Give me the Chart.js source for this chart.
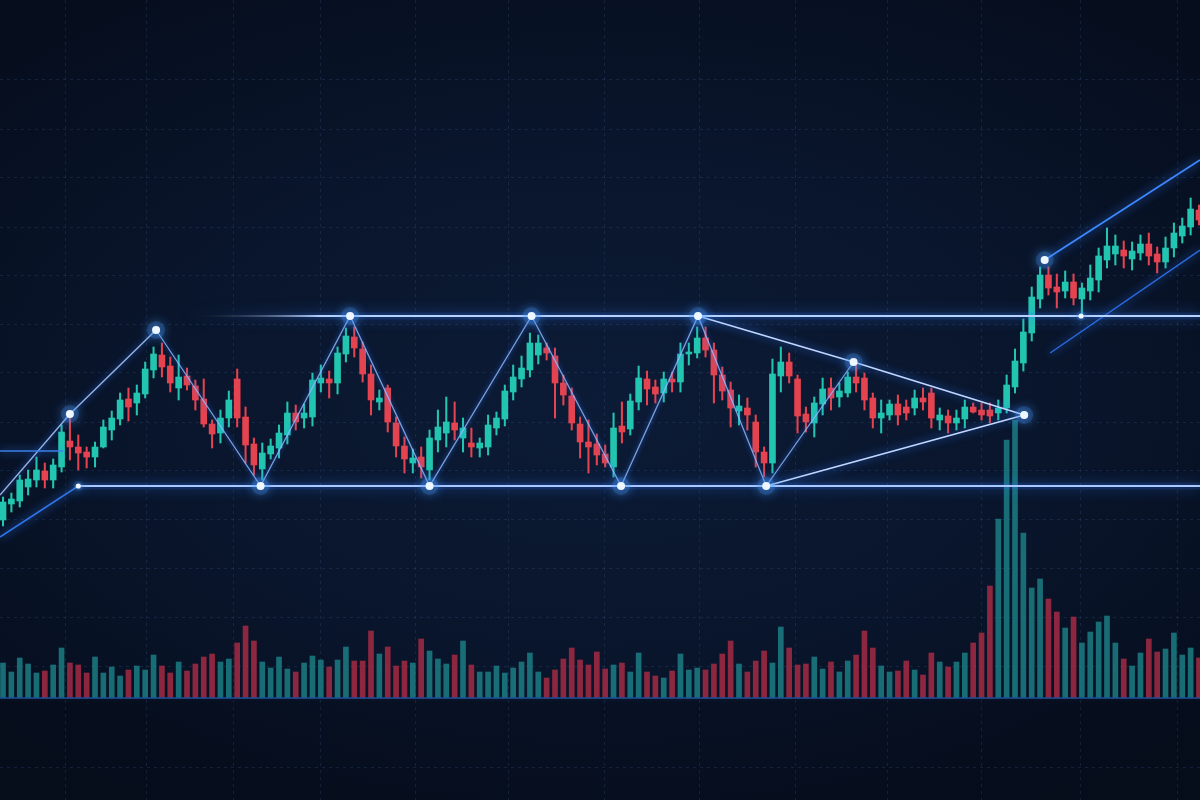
<!DOCTYPE html>
<html>
<head>
<meta charset="utf-8">
<title>Range breakout</title>
<script src="https://cdn.jsdelivr.net/npm/chart.js@4.4.1/dist/chart.umd.min.js"></script>
<style>
  html, body { margin: 0; padding: 0; }
  body {
    width: 1200px; height: 800px; overflow: hidden;
    background:
      linear-gradient(to bottom, rgba(0,0,0,0) 0, rgba(0,0,0,0) 700px, rgba(2,6,14,0.2) 702px),
      radial-gradient(ellipse 70% 60% at 50% 50%, #0c1b36 0%, #09152b 55%, #060e1e 100%);
  }
  #chart { display: block; }
</style>
</head>
<body>
<canvas id="chart" width="1200" height="800"></canvas>
<script>
// --- candles (price units), one entry per bar ---
const candleOpen = [
  28.0, 29.6, 29.9, 31.3, 32.0, 32.9, 32.0, 33.3, 35.9, 35.3,
  34.8, 34.3, 35.3, 37.0, 38.1, 40.1, 39.7, 40.6, 43.0, 44.5,
  43.4, 41.2, 42.4, 41.4, 40.1, 37.6, 36.7, 38.2, 42.1, 38.3,
  35.6, 33.1, 34.6, 35.2, 36.5, 38.7, 38.2, 38.3, 41.7, 42.1,
  41.7, 44.6, 46.3, 45.1, 42.6, 39.8, 41.2, 37.7, 35.4, 33.7,
  34.3, 33.0, 36.0, 36.7, 37.7, 36.2, 35.7, 35.2, 35.3, 37.2,
  38.1, 40.8, 42.1, 43.0, 44.5, 45.2, 44.4, 41.7, 40.4, 37.6,
  35.8, 35.6, 34.6, 33.3, 37.4, 37.1, 39.8, 42.1, 41.3, 40.7,
  42.1, 41.8, 44.6, 44.7, 46.2, 45.0, 42.5, 41.0, 38.9, 39.2,
  37.8, 34.8, 33.7, 42.4, 43.8, 42.1, 38.6, 37.7, 39.6, 41.2,
  40.3, 40.7, 42.3, 42.2, 40.2, 38.2, 38.5, 39.6, 39.3, 39.2,
  40.2, 40.7, 38.0, 38.4, 37.7, 38.1, 39.3, 39.0, 39.0, 38.7,
  39.2, 41.3, 43.7, 46.7, 50.1, 52.5, 51.3, 50.9, 51.8, 50.1,
  50.9, 52.0, 54.0, 54.6, 55.0, 54.1, 54.7, 55.6, 54.6, 53.8,
  55.2, 56.4, 57.3, 59.0
];
const candleClose = [
  29.8, 30.1, 32.0, 32.1, 33.0, 32.0, 33.5, 36.8, 35.3, 34.7,
  34.3, 35.3, 37.3, 38.2, 40.0, 39.3, 40.7, 43.1, 44.6, 43.3,
  41.7, 42.3, 41.5, 40.0, 37.6, 36.6, 38.2, 40.0, 38.2, 35.5,
  33.5, 34.7, 35.4, 36.7, 38.7, 37.8, 38.7, 42.0, 42.2, 41.7,
  44.7, 46.4, 45.2, 42.6, 40.0, 40.2, 37.8, 35.4, 34.1, 34.2,
  33.3, 36.2, 37.3, 37.8, 37.0, 37.2, 35.3, 35.7, 37.5, 38.2,
  40.9, 42.3, 43.2, 45.7, 45.7, 44.7, 41.7, 40.5, 37.7, 35.8,
  35.3, 34.5, 33.7, 37.2, 36.8, 39.9, 42.2, 41.1, 40.6, 42.1,
  41.8, 44.6, 44.8, 46.2, 45.0, 42.5, 40.9, 39.2, 39.4, 38.5,
  34.8, 33.7, 42.6, 43.8, 42.4, 38.4, 37.8, 39.7, 41.1, 40.2,
  40.9, 42.3, 41.7, 40.0, 38.2, 38.7, 39.6, 38.5, 38.7, 40.2,
  39.8, 38.2, 38.5, 37.7, 38.2, 39.3, 38.8, 38.5, 38.4, 39.2,
  41.5, 43.9, 46.8, 50.3, 52.5, 51.2, 50.8, 51.8, 50.2, 51.2,
  52.2, 54.4, 55.4, 55.4, 54.4, 54.9, 55.6, 54.4, 53.8, 55.2,
  56.7, 57.4, 59.1, 58.0
];
const candleHigh = [
  30.3, 30.7, 32.5, 33.0, 34.3, 33.7, 34.1, 37.5, 38.2, 36.5,
  35.3, 35.8, 38.0, 38.9, 40.7, 41.2, 41.5, 43.8, 45.3, 45.7,
  44.3, 44.5, 43.2, 42.0, 42.1, 38.0, 39.0, 40.9, 43.1, 39.3,
  36.2, 35.7, 36.1, 37.5, 39.8, 39.5, 39.6, 42.7, 43.5, 42.9,
  45.3, 47.2, 47.3, 45.8, 43.5, 41.0, 41.5, 38.3, 36.3, 35.1,
  35.3, 37.0, 39.0, 40.3, 39.8, 38.2, 37.2, 36.2, 38.5, 38.8,
  41.5, 43.5, 44.4, 46.7, 46.5, 45.7, 45.2, 42.5, 41.2, 38.3,
  38.0, 36.6, 35.5, 38.7, 39.8, 40.6, 43.4, 42.9, 42.0, 42.8,
  42.8, 45.7, 45.7, 47.3, 47.3, 45.7, 43.3, 41.8, 40.5, 40.2,
  38.5, 35.3, 44.1, 45.3, 44.7, 42.5, 39.3, 40.3, 42.2, 42.2,
  41.7, 42.8, 43.5, 42.7, 40.7, 40.0, 40.0, 40.5, 40.0, 41.0,
  41.2, 41.2, 39.2, 39.0, 39.0, 40.0, 39.7, 39.7, 39.7, 40.0,
  42.5, 45.1, 48.1, 51.3, 53.3, 53.3, 52.6, 52.9, 52.6, 51.7,
  53.5, 55.2, 57.2, 56.5, 55.9, 55.8, 56.5, 56.7, 55.3, 56.3,
  57.7, 58.2, 60.2, 59.5
];
const candleLow = [
  27.4, 28.8, 29.3, 30.5, 31.3, 31.2, 31.2, 32.8, 34.0, 33.0,
  33.2, 33.3, 35.2, 36.0, 37.5, 37.9, 38.5, 40.2, 42.2, 42.3,
  40.8, 40.0, 41.0, 39.0, 37.3, 35.2, 35.7, 37.3, 37.3, 33.7,
  32.5, 32.0, 34.1, 34.2, 35.6, 37.0, 37.2, 37.4, 40.8, 40.2,
  40.6, 43.8, 44.3, 41.8, 38.5, 39.0, 36.8, 34.3, 32.7, 32.7,
  32.2, 32.0, 34.8, 35.3, 36.0, 34.8, 34.3, 34.3, 34.5, 36.5,
  37.4, 40.0, 41.3, 42.3, 43.6, 44.0, 38.2, 39.5, 37.0, 34.2,
  32.7, 33.5, 33.3, 32.3, 35.7, 36.5, 39.0, 39.5, 39.7, 39.8,
  40.8, 40.8, 43.5, 44.2, 44.3, 39.7, 40.0, 37.3, 37.5, 37.0,
  33.3, 32.3, 32.7, 40.8, 41.7, 36.7, 36.8, 36.3, 38.5, 39.0,
  39.3, 40.3, 40.8, 39.0, 37.2, 36.7, 38.0, 37.5, 38.0, 38.5,
  39.0, 37.2, 37.0, 36.7, 37.0, 37.2, 38.7, 38.0, 37.7, 38.0,
  38.7, 40.7, 42.9, 45.9, 49.2, 50.5, 49.2, 50.2, 49.5, 48.5,
  50.0, 50.8, 53.2, 53.5, 53.2, 53.0, 54.0, 53.5, 52.7, 53.2,
  54.3, 55.7, 56.5, 57.5
];
const volume = [
  35, 26, 40, 34, 25, 27, 33, 50, 35, 33, 25, 41, 25, 31, 22, 28, 32, 28, 43, 32,
  25, 36, 27, 34, 41, 44, 36, 39, 55, 72, 57, 36, 30, 41, 29, 26, 35, 42, 38, 31,
  38, 51, 37, 37, 67, 44, 51, 32,
  37, 35, 59, 47, 39, 34, 43, 57, 33, 26, 26, 32, 25, 30, 36, 45, 26, 20, 28, 39,
  50, 38, 33, 46, 29, 33, 35, 26, 45, 26, 22, 20, 27, 44, 28, 30, 28, 34, 44, 57,
  34, 26, 37, 47, 35, 71, 50, 33,
  34, 41, 29, 36, 26, 37, 43, 67, 50, 32, 26, 27, 37, 28, 23, 45, 36, 31, 36, 45,
  55, 65, 112, 179, 258, 278, 165, 110, 119, 99, 86, 70, 81, 55, 66, 76, 82, 55, 39, 32,
  45, 59, 46, 49, 65, 43, 50, 40
];

// --- pattern lines: [bar index, price] ---
const riseLine = [[-0.36, 30.5], [8, 38.6], [18.3, 47.0]];
const lowerLeftLine = [[-0.36, 26.3], [9, 31.4]];
const leftShelf = [[-0.36, 34.9], [7.2, 34.9]];
const supportLine = [[9, 31.4], [143.12, 31.4]];
const resistanceLine = [[21, 48.4], [143.12, 48.4]];
const zigzag = [[18.3, 47.0], [30.8, 31.4], [41.5, 48.4], [51, 31.4], [63.2, 48.4],
  [73.9, 31.4], [83.1, 48.4], [91.25, 31.4], [101.7, 43.8]];
const triangleTop = [[83.1, 48.4], [101.7, 43.8], [122.1, 38.5]];
const triangleBottom = [[91.25, 31.4], [122.1, 38.5]];
const channelTop = [[124.55, 54.0], [143.12, 64.0]];
const channelBottom = [[125.2, 44.7], [143.12, 55.0]];
const pivots = [[8, 38.6], [18.3, 47.0], [9, 31.4], [30.8, 31.4], [41.5, 48.4], [51, 31.4],
  [63.2, 48.4], [73.9, 31.4], [83.1, 48.4], [91.25, 31.4], [101.7, 43.8], [122.1, 38.5],
  [124.55, 54.0], [128.9, 48.4]];
const minorPivots = [2, 13];

// --- grid ticks ---
const gridX = [7.5, 17.2, 27.5, 38.0, 49.3, 60.4, 71.9, 83.3, 94.8, 105.8, 117.0, 128.8, 140.4];
const gridY = [72.0, 67.1, 62.2, 57.3, 52.5, 47.6, 42.7, 37.8, 33.0, 28.1, 23.2, 18.3, 13.4, 3.3];

const X_MIN = -0.36, X_MAX = 143.12;

const UP = '#22c6b0', DOWN = '#e4434f';
const VOL_UP = 'rgba(30,135,140,0.78)', VOL_DOWN = 'rgba(178,45,70,0.78)';

document.addEventListener("DOMContentLoaded", () => {
    const isUp = candleOpen.map((o, i) => candleClose[i] >= o);
    const candleColors = isUp.map(u => u ? UP : DOWN);
    const pts = arr => arr.map(p => ({ x: p[0], y: p[1] }));

    // soft glow around lines and pivot dots
    const glowPlugin = {
        id: 'glow',
        beforeDatasetDraw(chart, args) {
            const ds = chart.data.datasets[args.index];
            if (!ds.glow) return;
            chart.ctx.save();
            chart.ctx.shadowColor = ds.glow;
            chart.ctx.shadowBlur = ds.glowBlur || 10;
        },
        afterDatasetDraw(chart, args) {
            if (chart.data.datasets[args.index].glow) chart.ctx.restore();
        }
    };

    function trend(points, color, width, glow, blur, order) {
        return {
            type: 'line', data: pts(points), borderColor: color, borderWidth: width,
            pointRadius: 0, fill: false, tension: 0, order: order || 2, glow: glow, glowBlur: blur
        };
    }

    // resistance fades in from the left
    function fadeIn(from, to, color) {
        return (c) => {
            const chart = c.chart;
            if (!chart.chartArea) return color;
            const x = chart.scales.x;
            const g = chart.ctx.createLinearGradient(x.getPixelForValue(from), 0, x.getPixelForValue(to), 0);
            g.addColorStop(0, 'rgba(0,0,0,0)');
            g.addColorStop(1, color);
            return g;
        };
    }

    const resistance = trend(resistanceLine, '#b7d2ff', 2, '#2f7bff', 14);
    resistance.borderColor = fadeIn(21, 38, '#b7d2ff');
    const resistanceHalo = trend(resistanceLine, 'rgba(50,120,255,0.16)', 7, null, 0, 3);
    resistanceHalo.borderColor = fadeIn(21, 40, 'rgba(50,120,255,0.16)');

    const ctx = document.getElementById('chart').getContext('2d');
    new Chart(ctx, {
        type: 'bar',
        data: {
            datasets: [
                {
                    type: 'bar', yAxisID: 'yVol',
                    data: volume.map((v, i) => ({ x: i, y: v })),
                    backgroundColor: isUp.map(u => u ? VOL_UP : VOL_DOWN),
                    barThickness: 5, grouped: false, order: 10
                },
                {
                    type: 'line', yAxisID: 'yVol',
                    data: [{ x: X_MIN, y: 0 }, { x: X_MAX, y: 0 }],
                    borderColor: '#1d4f9a', borderWidth: 1.5, pointRadius: 0, order: 9
                },
                {
                    type: 'bar',
                    data: candleOpen.map((o, i) => ({ x: i, y: [candleLow[i], candleHigh[i]] })),
                    backgroundColor: candleColors, barThickness: 1.4, grouped: false, order: 8
                },
                {
                    type: 'bar',
                    data: candleOpen.map((o, i) => ({ x: i, y: [o, candleClose[i]] })),
                    backgroundColor: candleColors, barThickness: 6, minBarLength: 2,
                    grouped: false, order: 7
                },
                trend(supportLine, 'rgba(50,120,255,0.16)', 7, null, 0, 3),
                resistanceHalo,
                trend(leftShelf, '#3b7fe8', 1.5, '#2f7bff', 8),
                trend(lowerLeftLine, '#2f74e6', 1.5, '#2f7bff', 8),
                trend(riseLine, 'rgba(175,205,255,0.85)', 1.4, '#2f7bff', 6),
                trend(supportLine, '#a9c8ff', 2, '#2f7bff', 14),
                resistance,
                trend(zigzag, 'rgba(150,190,255,0.8)', 1.3, '#2f7bff', 5),
                trend(triangleTop, '#c2d7ff', 1.8, '#2f7bff', 8),
                trend(triangleBottom, '#c2d7ff', 1.8, '#2f7bff', 8),
                trend(channelTop, '#3d89ff', 1.8, '#2f7bff', 10),
                trend(channelBottom, '#2b6be0', 1.5, '#2f7bff', 8),
                {
                    type: 'line', showLine: false, data: pts(pivots),
                    pointRadius: pivots.map((p, i) => minorPivots.includes(i) ? 5 : 9),
                    pointBackgroundColor: 'rgba(70,150,255,0.22)', pointBorderWidth: 0,
                    order: 1, glow: '#3d8dff', glowBlur: 12
                },
                {
                    type: 'line', showLine: false, data: pts(pivots),
                    pointRadius: pivots.map((p, i) => minorPivots.includes(i) ? 2.6 : 4),
                    pointBackgroundColor: '#eef7ff', pointBorderWidth: 0,
                    order: 0, glow: '#6ab4ff', glowBlur: 14
                }
            ]
        },
        options: {
            responsive: false,
            animation: false,
            layout: { padding: 0, autoPadding: false },
            plugins: {
                legend: { display: false },
                tooltip: { enabled: false }
            },
            scales: {
                x: {
                    type: 'linear', min: X_MIN, max: X_MAX, offset: false,
                    grid: { color: 'rgba(70,105,160,0.22)', drawTicks: false, offset: false },
                    border: { display: false, dash: [3, 4] },
                    ticks: { display: false },
                    afterBuildTicks: axis => { axis.ticks = gridX.map(v => ({ value: v })); }
                },
                y: {
                    type: 'linear', min: 0, max: 80, position: 'left',
                    grid: { color: 'rgba(70,105,160,0.22)', drawTicks: false },
                    border: { display: false, dash: [3, 4] },
                    ticks: { display: false },
                    afterBuildTicks: axis => { axis.ticks = gridY.map(v => ({ value: v })); }
                },
                yVol: { type: 'linear', min: -102, max: 698, display: false }
            }
        },
        plugins: [glowPlugin]
    });
});
</script>
</body>
</html>
